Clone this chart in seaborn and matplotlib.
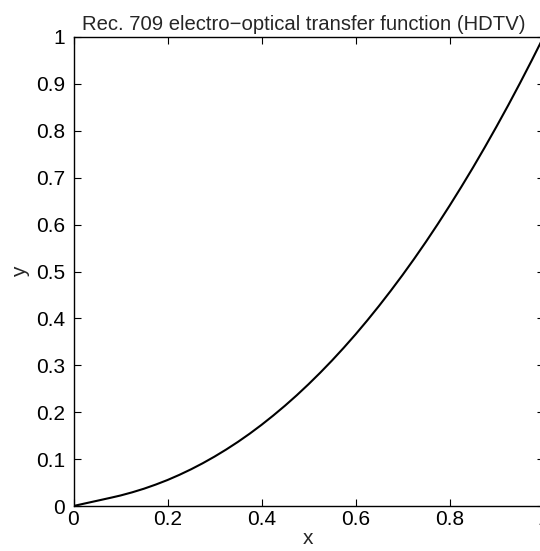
import matplotlib
matplotlib.use("Agg")
import matplotlib.pyplot as plt
import seaborn as sns
import pandas as pd

# Values
x_vals = [0.0, 0.025, 0.05, 0.081, 0.1, 0.125, 0.15, 0.175, 0.2, 0.225, 0.25, 0.275,
          0.3, 0.325, 0.35, 0.375, 0.4, 0.425, 0.45, 0.475, 0.5, 0.525, 0.55, 0.575,
          0.6, 0.625, 0.65, 0.675, 0.7, 0.725, 0.75, 0.775, 0.8, 0.825, 0.85, 0.875,
          0.9, 0.925, 0.95, 0.975, 1.0]
y_vals = [0.0, 0.0056, 0.0111, 0.018, 0.0224, 0.0292, 0.0369, 0.0457, 0.0554, 0.0663,
          0.0782, 0.0912, 0.1053, 0.1205, 0.1368, 0.1543, 0.1730, 0.1929, 0.2139,
          0.2361, 0.2596, 0.2843, 0.3102, 0.3374, 0.3658, 0.3956, 0.4266, 0.4589,
          0.4924, 0.5273, 0.5635, 0.6011, 0.6400, 0.6802, 0.7217, 0.7647, 0.8090,
          0.8546, 0.9017, 0.9502, 1.0]
x_ticks = [0, 0.2, 0.4, 0.6, 0.8, 1]
x_tick_labels = ["0", "0.2", "0.4", "0.6", "0.8", "1"]
y_ticks = [0, 0.1, 0.2, 0.3, 0.4, 0.5, 0.6, 0.7, 0.8, 0.9, 1]
y_tick_labels = ["0", "0.1", "0.2", "0.3", "0.4", "0.5", "0.6", "0.7", "0.8", "0.9", "1"]

df = pd.DataFrame({"x": x_vals, "y": y_vals})

sns.set_theme(style="ticks")
plt.rcParams["font.family"] = ["Liberation Sans", "DejaVu Sans"]

W, H = 540, 551
fig = plt.figure(figsize=(W / 100, H / 100), dpi=100)
left, right, top, bottom = 73.5, 543.5, 37.0, 506.0
ax = fig.add_axes([left / W, 1 - bottom / H, (right - left) / W, (bottom - top) / H])

sns.lineplot(data=df, x="x", y="y", ax=ax, color="black", linewidth=1.5)

FS = 15
ax.set_xlim(0, 1)
ax.set_ylim(0, 1)
ax.set_xticks(x_ticks)
ax.set_xticklabels(x_tick_labels)
ax.set_yticks(y_ticks)
ax.set_yticklabels(y_tick_labels)
ax.tick_params(direction="in", length=5, width=0.8, labelsize=FS, colors="black",
               top=True, right=True, pad=6)
ax.tick_params(axis="x", pad=3)
for s in ax.spines.values():
    s.set_visible(True)
    s.set_linewidth(1.0)
    s.set_color("black")

ax.set_xlabel("x", fontsize=FS, labelpad=0)
ax.set_ylabel("y", fontsize=FS, labelpad=4)
ax.set_title("Rec. 709 electro\u2212optical transfer function (HDTV)", fontsize=14.6,
             pad=5, x=0.49)

fig.savefig("out.png", dpi=100, facecolor="white")
